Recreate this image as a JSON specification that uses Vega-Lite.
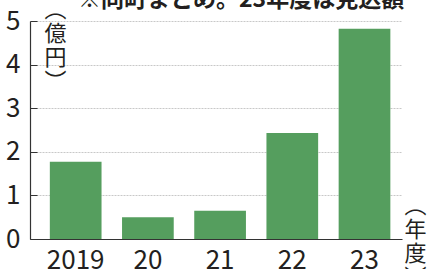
{
  "$schema": "https://vega.github.io/schema/vega-lite/v6.json",
  "width": 372,
  "height": 218,
  "autosize": {"type": "none"},
  "padding": {"left": 30, "top": 21, "right": 28, "bottom": 30},
  "background": "white",
  "title": {
    "text": "※同町まとめ。23年度は見込額",
    "frame": "group",
    "anchor": "start",
    "dx": 48,
    "offset": -32,
    "baseline": "alphabetic",
    "fontSize": 23,
    "fontWeight": "bold",
    "font": "Noto Sans CJK JP",
    "color": "#231f20"
  },
  "data": {
    "values": [
      {"year": "2019", "value": 1.77},
      {"year": "20", "value": 0.5},
      {"year": "21", "value": 0.65},
      {"year": "22", "value": 2.43},
      {"year": "23", "value": 4.82}
    ]
  },
  "mark": {"type": "bar", "color": "#559e5e"},
  "encoding": {
    "x": {
      "field": "year",
      "type": "ordinal",
      "sort": null,
      "scale": {"paddingInner": 0.284, "paddingOuter": 0.218, "align": 0.63},
      "axis": {
        "title": ["︵", "年", "度", "︶"],
        "titleAngle": 0,
        "titleX": 385,
        "titleY": -44,
        "titleAlign": "center",
        "titleBaseline": "top",
        "titleFontSize": 22,
        "titleLineHeight": 24,
        "titleFontWeight": "normal",
        "titleColor": "#231f20",
        "labelAngle": 0,
        "labelFontSize": 26,
        "labelColor": "#231f20",
        "labelBaseline": "alphabetic",
        "labelPadding": 29,
        "ticks": false,
        "domainColor": "#333333",
        "domainWidth": 1.2,
        "grid": false
      }
    },
    "y": {
      "field": "value",
      "type": "quantitative",
      "scale": {"domain": [0, 5], "nice": false},
      "axis": {
        "title": ["︵", "億", "円", "︶"],
        "titleAngle": 0,
        "titleX": 25,
        "titleY": -22,
        "titleAlign": "center",
        "titleBaseline": "top",
        "titleFontSize": 22,
        "titleLineHeight": 24,
        "titleFontWeight": "normal",
        "titleColor": "#231f20",
        "values": [0, 1, 2, 3, 4, 5],
        "tickSize": -7,
        "tickColor": "#333333",
        "domainColor": "#333333",
        "domainWidth": 1.2,
        "labelFontSize": 26,
        "labelColor": "#231f20",
        "labelPadding": 17,
        "grid": true,
        "gridColor": "#c8c8c8",
        "gridDash": [2, 1],
        "gridWidth": 1
      }
    }
  },
  "config": {"view": {"stroke": null}, "font": "Noto Sans CJK JP"}
}
